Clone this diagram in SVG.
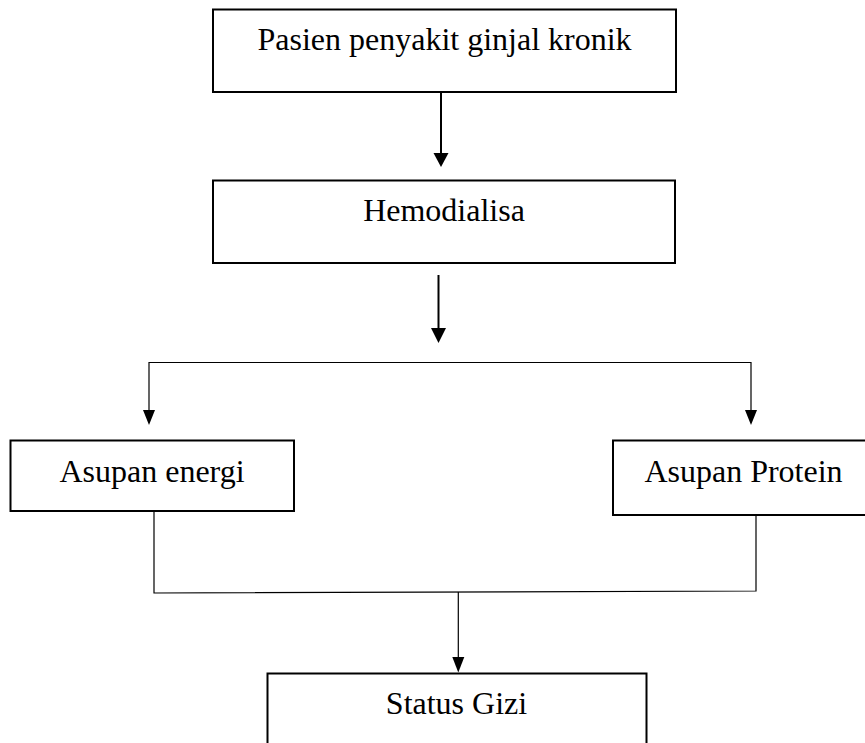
<svg xmlns="http://www.w3.org/2000/svg" width="865" height="743" viewBox="0 0 865 743">
<style>
.box{fill:#fff;stroke:#000;stroke-width:2}
.lbl{font-family:"Liberation Serif","Times New Roman",serif;font-size:32px;fill:#000;text-anchor:middle}
.thick{stroke:#000;stroke-width:2;fill:none}
.thin{stroke:#000;stroke-width:1.2;fill:none}
.head{fill:#000}
</style>
<rect width="865" height="743" fill="#fff"/>
<g id="connectors">
<line class="thick" x1="441" y1="92" x2="441" y2="155"/>
<polygon class="head" points="433.5,153 448.5,153 441,167"/>
<line class="thick" x1="438.5" y1="275" x2="438.5" y2="330"/>
<polygon class="head" points="431,328 446,328 438.5,343"/>
<polyline class="thin" points="149,412 149,362.5 751,362.5 751,412"/>
<polygon class="head" points="143,410 155,410 149,425"/>
<polygon class="head" points="745,410 757,410 751,425"/>
<polyline class="thin" points="154,511 154,593 756,591 756,515"/>
<line class="thin" x1="458.3" y1="592" x2="458.3" y2="659"/>
<polygon class="head" points="452.3,657 464.3,657 458.3,672.5"/>
</g>
<g id="node-pasien">
<rect class="box" x="213" y="9.5" width="463" height="82.5"/>
<text class="lbl" x="444.5" y="50">Pasien penyakit ginjal kronik</text>
</g>
<g id="node-hemodialisa">
<rect class="box" x="213" y="180.5" width="462" height="82.5"/>
<text class="lbl" x="444" y="220.5">Hemodialisa</text>
</g>
<g id="node-energi">
<rect class="box" x="10.5" y="440.5" width="283.5" height="70.5"/>
<text class="lbl" x="152" y="481.5">Asupan energi</text>
</g>
<g id="node-protein">
<rect class="box" x="613" y="440.5" width="262" height="74.5"/>
<text class="lbl" x="743.5" y="481.5">Asupan Protein</text>
</g>
<g id="node-status">
<rect class="box" x="267.5" y="673.5" width="379" height="90"/>
<text class="lbl" x="456.5" y="713.5">Status Gizi</text>
</g>
</svg>
